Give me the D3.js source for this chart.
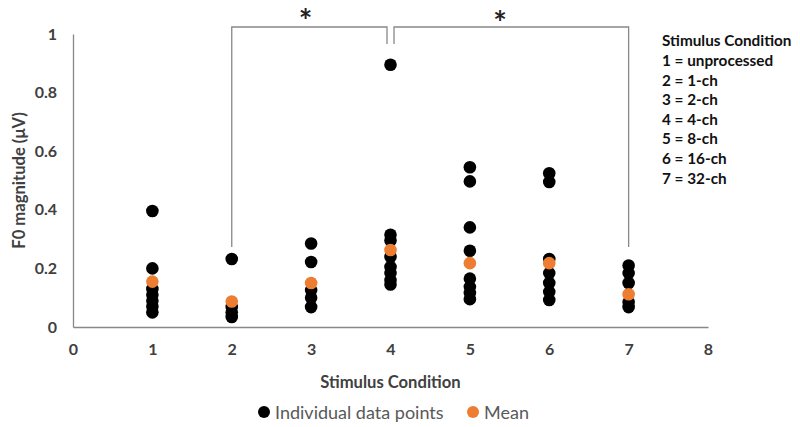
<!DOCTYPE html>
<html>
<head>
<meta charset="utf-8">
<script src="https://cdn.jsdelivr.net/npm/d3@7"></script>
<style>
  body { margin: 0; background: #fff; }
  text { font-family: Lato, "Open Sans", sans-serif; }
</style>
</head>
<body>
<div id="chart"></div>
<script>
// individual F0 magnitudes per stimulus condition
var conditions = [1, 2, 3, 4, 5, 6, 7];
var individual = [
  [0.396, 0.20, 0.13, 0.11, 0.09, 0.07, 0.05],
  [0.232, 0.068, 0.05, 0.034],
  [0.285, 0.222, 0.126, 0.10, 0.068],
  [0.895, 0.315, 0.295, 0.24, 0.205, 0.184, 0.16, 0.145],
  [0.545, 0.497, 0.34, 0.26, 0.165, 0.137, 0.116, 0.095],
  [0.525, 0.495, 0.232, 0.184, 0.15, 0.12, 0.092],
  [0.21, 0.184, 0.15, 0.085, 0.068]
];
var means = [0.155, 0.087, 0.15, 0.263, 0.218, 0.218, 0.112];
var yTicks = [0, 0.2, 0.4, 0.6, 0.8, 1];
var xTicks = [0, 1, 2, 3, 4, 5, 6, 7, 8];
var keyLines = ["1 = unprocessed", "2 = 1-ch", "3 = 2-ch", "4 = 4-ch", "5 = 8-ch", "6 = 16-ch", "7 = 32-ch"];

var w = 800, h = 427;
var x = d3.scaleLinear().domain([0, 8]).range([73, 708]);
var y = d3.scaleLinear().domain([0, 1]).range([327, 34]);

var svg = d3.select("#chart").append("svg")
  .attr("width", w).attr("height", h)
  .style("background", "#fff");

// axes
svg.append("g")
  .attr("transform", "translate(0," + y(0) + ")")
  .call(d3.axisBottom(x).tickValues(xTicks).tickSize(0).tickPadding(17).tickFormat(d3.format("d")));
svg.append("g")
  .attr("transform", "translate(" + x(0) + ",0)")
  .call(d3.axisLeft(y).tickValues(yTicks).tickSize(0).tickPadding(16).tickFormat(function(d) { return d; }));

svg.selectAll(".domain").attr("stroke", "#888").attr("stroke-width", 1.3);
svg.selectAll(".tick text")
  .attr("font-size", 16).attr("font-weight", "bold").attr("fill", "#404040")
  .style("font-family", "Lato, 'Open Sans', sans-serif");

// axis titles
svg.append("text")
  .attr("x", (x(0) + x(8)) / 2).attr("y", 388)
  .attr("text-anchor", "middle")
  .attr("font-size", 16.6).attr("font-weight", "bold").attr("fill", "#404040")
  .text("Stimulus Condition");
svg.append("text")
  .attr("transform", "translate(25," + y(0.5) + ") rotate(-90)")
  .attr("text-anchor", "middle")
  .attr("font-size", 16.6).attr("font-weight", "bold").attr("fill", "#404040")
  .text("F0 magnitude (μV)");

// points
var pts = [];
individual.forEach(function(vals, i) {
  vals.forEach(function(v) { pts.push({ c: conditions[i], v: v }); });
});
svg.append("g").selectAll("circle").data(pts).enter().append("circle")
  .attr("cx", function(d) { return x(d.c); })
  .attr("cy", function(d) { return y(d.v); })
  .attr("r", 6.3)
  .attr("fill", "#000");

svg.append("g").selectAll("circle").data(means).enter().append("circle")
  .attr("cx", function(d, i) { return x(conditions[i]); })
  .attr("cy", function(d) { return y(d); })
  .attr("r", 6.3)
  .attr("fill", "#ED7D31");

// significance brackets
var brTop = 27, brInner = 44, brLow = 247;
var br = svg.append("g").attr("fill", "none").attr("stroke", "#888").attr("stroke-width", 1.3);
br.append("path").attr("d", "M" + x(2) + "," + brLow + "V" + brTop + "H" + (x(4) - 3.5) + "V" + brInner);
br.append("path").attr("d", "M" + (x(4) + 3.5) + "," + brInner + "V" + brTop + "H" + x(7) + "V" + brLow);
svg.append("text").attr("x", x(2.93)).attr("y", 20.5).attr("text-anchor", "middle")
  .attr("dominant-baseline", "central")
  .attr("font-size", 32).attr("font-weight", "bold").attr("fill", "#222").text("*");
svg.append("text").attr("x", x(5.38)).attr("y", 22.5).attr("text-anchor", "middle")
  .attr("dominant-baseline", "central")
  .attr("font-size", 32).attr("font-weight", "bold").attr("fill", "#222").text("*");

// condition key
var key = svg.append("g").attr("transform", "translate(662,0)");
key.append("text").attr("y", 46).attr("font-size", 15.3).attr("font-weight", "bold").attr("fill", "#111")
  .text("Stimulus Condition");
key.selectAll(".k").data(keyLines).enter().append("text").attr("class", "k")
  .attr("y", function(d, i) { return 66 + i * 19.6; })
  .attr("font-size", 15.3).attr("font-weight", "bold").attr("fill", "#111")
  .text(function(d) { return d; });

// legend
var legend = [{ label: "Individual data points", color: "#000", x: 264 }, { label: "Mean", color: "#ED7D31", x: 473 }];
var lg = svg.append("g").selectAll("g").data(legend).enter().append("g")
  .attr("transform", function(d) { return "translate(" + d.x + ",412)"; });
lg.append("circle").attr("r", 6).attr("fill", function(d) { return d.color; });
lg.append("text").attr("x", 11).attr("y", 6.5).attr("font-size", 18).attr("fill", "#595959")
  .text(function(d) { return d.label; });
</script>
</body>
</html>
